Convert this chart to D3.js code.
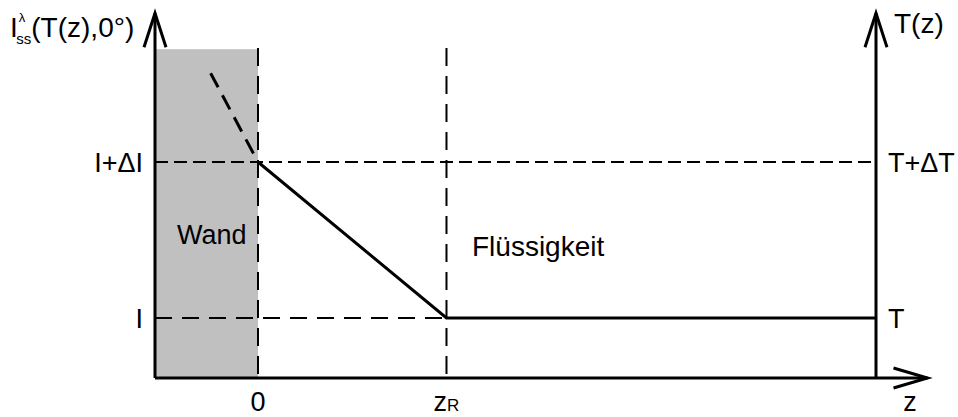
<!DOCTYPE html>
<html>
<head>
<meta charset="utf-8">
<script src="https://cdn.jsdelivr.net/npm/d3@7"></script>
<style>
  html, body { margin: 0; padding: 0; background: #fff; }
  svg { display: block; }
  text { font-family: Arial, "Liberation Sans", sans-serif; fill: #000; }
</style>
</head>
<body>
<script>
// Distance z from the wall: wall starts at -1, wall/liquid boundary at 0, zR = thermal boundary layer edge
const zWallStart = -1;
const zBoundary = 0;
const zR = 1.83;
const zEnd = 6;
const zArrow = 6.5;

// Intensity / temperature levels (relative units)
const levelI = 1;
const levelIdI = 3.6;
const wallTop = 5.48;
const guideTop = 5.5;
const axisTop = 6.08;

// Profile in the liquid: falls linearly from I+ΔI at the wall to I at zR, then stays at I
const profileZ = [0, 1.83, 6];
const profileI = [3.6, 1, 1];

// Extrapolated profile inside the wall (dashed)
const wallProfileZ = [-0.46, 0];
const wallProfileI = [5.08, 3.6];

// Labels
const leftTickValues = [1, 3.6];
const leftTickLabels = ["I", "I+\u0394I"];
const rightTickLabels = ["T", "T+\u0394T"];

const W = 958, H = 417;
const svg = d3.select("body").append("svg").attr("width", W).attr("height", H);

const x = d3.scaleLinear().domain([-1, 6]).range([155, 876]);
const y = d3.scaleLinear().domain([0, 6]).range([378, 18]);

// Wall region
svg.append("rect")
  .attr("x", x(zWallStart)).attr("y", y(wallTop))
  .attr("width", x(zBoundary) - x(zWallStart))
  .attr("height", y(0) - y(wallTop))
  .attr("fill", "#c0c0c0");

// Dashed guide lines
const guide = svg.append("g").attr("stroke", "#000").attr("fill", "none");
guide.append("line")
  .attr("x1", x(zWallStart)).attr("x2", x(zEnd))
  .attr("y1", y(levelIdI)).attr("y2", y(levelIdI))
  .attr("stroke-width", 2).attr("stroke-dasharray", "13,6");
guide.append("line")
  .attr("x1", x(zWallStart)).attr("x2", x(zR))
  .attr("y1", y(levelI)).attr("y2", y(levelI))
  .attr("stroke-width", 2).attr("stroke-dasharray", "17,10");
[zBoundary, zR].forEach(z => {
  guide.append("line")
    .attr("x1", x(z)).attr("x2", x(z))
    .attr("y1", y(guideTop)).attr("y2", y(0))
    .attr("stroke-width", 2).attr("stroke-dasharray", "18,10");
});

// Profile lines
const line = d3.line().x(d => x(d[0])).y(d => y(d[1]));
svg.append("path")
  .attr("d", line(profileZ.map((z, i) => [z, profileI[i]])))
  .attr("fill", "none").attr("stroke", "#000").attr("stroke-width", 3);
svg.append("path")
  .attr("d", line(wallProfileZ.map((z, i) => [z, wallProfileI[i]])))
  .attr("fill", "none").attr("stroke", "#000").attr("stroke-width", 3)
  .attr("stroke-dasharray", "16,9");

// Axes with open arrow heads
const axes = svg.append("g").attr("stroke", "#000").attr("stroke-width", 3).attr("fill", "none");
axes.append("line").attr("x1", x(zWallStart)).attr("x2", x(zWallStart)).attr("y1", y(0)).attr("y2", y(axisTop));
axes.append("line").attr("x1", x(zEnd)).attr("x2", x(zEnd)).attr("y1", y(0)).attr("y2", y(axisTop));
axes.append("line").attr("x1", x(zWallStart)).attr("x2", x(zArrow)).attr("y1", y(0)).attr("y2", y(0));

function arrowUp(cx, tipY) {
  axes.append("polyline")
    .attr("points", `${cx - 11},${tipY + 34} ${cx},${tipY} ${cx + 11},${tipY + 34}`)
    .attr("stroke-linejoin", "miter");
}
arrowUp(x(zWallStart), y(axisTop));
arrowUp(x(zEnd), y(axisTop));
axes.append("polyline")
  .attr("points", `${x(zArrow) - 34},${y(0) - 10} ${x(zArrow)},${y(0)} ${x(zArrow) - 34},${y(0) + 10}`);

// Left and right tick labels
const fs = 27;
leftTickValues.forEach((v, i) => {
  svg.append("text")
    .attr("x", x(zWallStart) - 12).attr("y", y(v) + 10)
    .attr("text-anchor", "end").attr("font-size", fs)
    .text(leftTickLabels[i]);
  svg.append("text")
    .attr("x", x(zEnd) + 12).attr("y", y(v) + 10)
    .attr("font-size", fs)
    .text(rightTickLabels[i]);
});

// Bottom labels
const bottomY = 411;
svg.append("text").attr("x", x(zBoundary)).attr("y", bottomY)
  .attr("text-anchor", "middle").attr("font-size", fs).text("0");
const zr = svg.append("text").attr("x", x(zR)).attr("y", bottomY)
  .attr("text-anchor", "middle").attr("font-size", fs);
zr.append("tspan").text("z");
zr.append("tspan").attr("font-size", 17).text("R");
svg.append("text").attr("x", 910).attr("y", bottomY)
  .attr("text-anchor", "middle").attr("font-size", fs).text("z");

// Axis titles
svg.append("text").attr("x", x(zEnd) + 18).attr("y", 33)
  .attr("font-size", fs + 1).text("T(z)");
const yl = svg.append("text").attr("x", 10).attr("y", 37).attr("font-size", fs + 1);
yl.append("tspan").text("I");
yl.append("tspan").attr("font-size", 13).attr("dx", 1).attr("dy", -15).text("\u03bb");
yl.append("tspan").attr("font-size", 15).attr("dx", -9).attr("dy", 22).text("ss");
yl.append("tspan").attr("dy", -7).text("(T(z),0°)");

// Region labels
svg.append("text").attr("x", 177).attr("y", 244).attr("font-size", fs).text("Wand");
svg.append("text").attr("x", 472).attr("y", 256).attr("font-size", fs + 1).text("Flüssigkeit");
</script>
</body>
</html>
